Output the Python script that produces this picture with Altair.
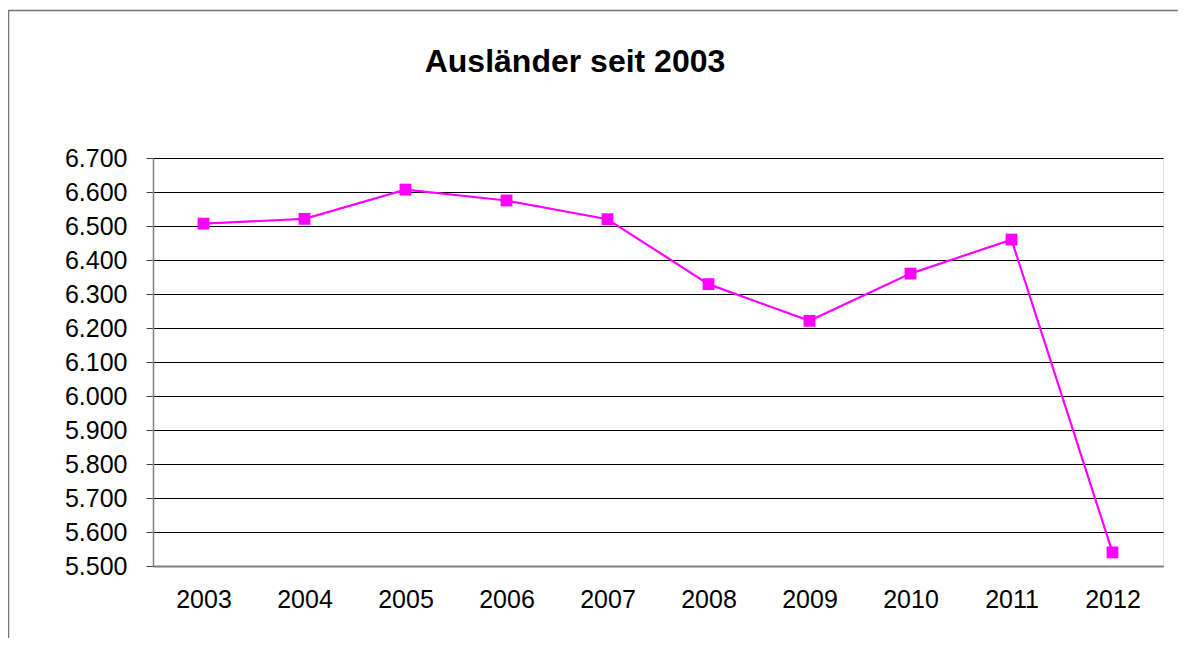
import altair as alt
import pandas as pd

years = ["2003", "2004", "2005", "2006", "2007", "2008", "2009", "2010", "2011", "2012"]
values = [6507, 6521, 6607, 6575, 6520, 6329, 6221, 6360, 6460, 5540]
y_ticks = [5500, 5600, 5700, 5800, 5900, 6000, 6100, 6200, 6300, 6400, 6500, 6600, 6700]

df = pd.DataFrame({"Jahr": years, "Ausländer": values})

FONT = "Liberation Sans"
MAGENTA = "#FF00FF"

base = alt.Chart(df).encode(
    x=alt.X(
        "Jahr:O",
        sort=years,
        scale=alt.Scale(type="point", padding=0.5),
        axis=alt.Axis(
            title=None,
            labelAngle=0,
            labelFont=FONT,
            labelFontSize=25,
            labelColor="#000000",
            labelPadding=21,
            ticks=False,
            tickSize=0,
            domainColor="#808080",
            domainWidth=2,
            grid=False,
            labelBaseline="top",
        ),
    ),
    y=alt.Y(
        "Ausländer:Q",
        scale=alt.Scale(domain=[5500, 6700], nice=False, zero=False),
        axis=alt.Axis(
            title=None,
            values=y_ticks,
            labelExpr="replace(format(datum.value, ',.0f'), ',', '.')",
            labelFont=FONT,
            labelFontSize=25,
            labelColor="#000000",
            labelPadding=19,
            tickSize=7,
            tickColor="#404040",
            tickWidth=1,
            domainColor="#808080",
            domainWidth=1.5,
            grid=True,
            gridColor="#000000",
            gridWidth=1,
            gridOpacity=1,
        ),
    ),
)

line = base.mark_line(color=MAGENTA, strokeWidth=2.2)
points = base.mark_square(color=MAGENTA, size=140, opacity=1, filled=True)

border = alt.Chart(pd.DataFrame({"a": [0]})).mark_rect(
    fill=None, stroke="#767676", strokeWidth=1.5, clip=False
).encode(
    x=alt.value(-144.5),
    x2=alt.value(1060),
    y=alt.value(-147.5),
    y2=alt.value(700),
)

chart = (
    alt.layer(border, line, points)
    .properties(
        width=1010,
        height=408,
        title=alt.TitleParams(
            "Ausländer seit 2003",
            font=FONT,
            fontSize=32,
            fontWeight="bold",
            color="#000000",
            anchor="middle",
            frame="group",
            baseline="alphabetic",
            dx=-83,
            offset=-94,
        ),
        autosize=alt.AutoSizeParams(type="none"),
        padding={"left": 145, "top": 150, "right": 15, "bottom": 72},
    )
    .configure_view(stroke=None)
    .configure(background="white")
)

chart.save("out.html", embed_options={"renderer": "svg", "actions": False})
